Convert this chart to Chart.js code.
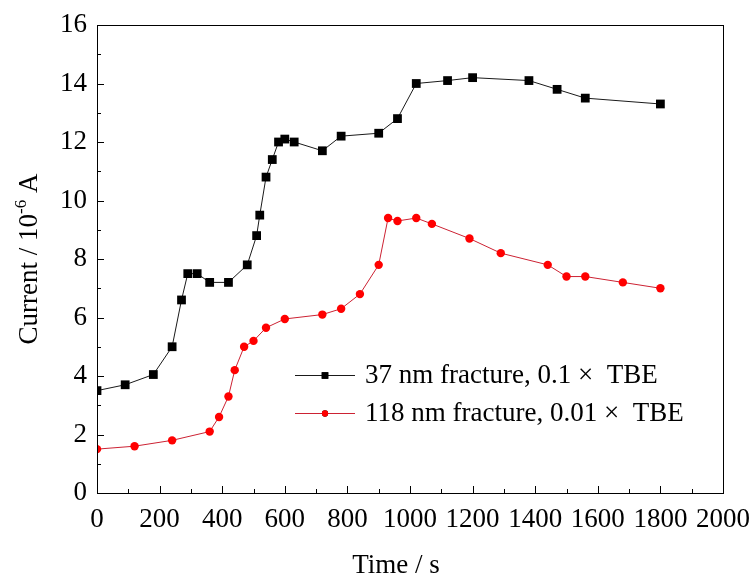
<!DOCTYPE html>
<html>
<head>
<meta charset="utf-8">
<script src="https://cdn.jsdelivr.net/npm/chart.js@4"></script>
<style>
  body { margin: 0; background: #fff; }
  canvas { display: block; }
</style>
</head>
<body>
<canvas id="myChart" width="752" height="579"></canvas>
<script>
const seriesNames = ['37 nm fracture, 0.1 \u00d7  TBE', '118 nm fracture, 0.01 \u00d7  TBE'];

const blackTime = [0, 90, 180, 240, 270, 290, 320, 360, 420, 480, 510, 520, 540, 560, 580, 600, 630, 720, 780, 900, 960, 1020, 1120, 1200, 1380, 1470, 1560, 1800];
const blackCurrent = [3.5, 3.7, 4.05, 5.0, 6.6, 7.5, 7.5, 7.2, 7.2, 7.8, 8.8, 9.5, 10.8, 11.4, 12.0, 12.1, 12.0, 11.7, 12.2, 12.3, 12.8, 14.0, 14.1, 14.2, 14.1, 13.8, 13.5, 13.3];

const redTime = [0, 120, 240, 360, 390, 420, 440, 470, 500, 540, 600, 720, 780, 840, 900, 930, 960, 1020, 1070, 1190, 1290, 1440, 1500, 1560, 1680, 1800];
const redCurrent = [1.5, 1.6, 1.8, 2.1, 2.6, 3.3, 4.2, 5.0, 5.2, 5.65, 5.95, 6.1, 6.3, 6.8, 7.8, 9.4, 9.3, 9.4, 9.2, 8.7, 8.2, 7.8, 7.4, 7.4, 7.2, 7.0];

const xTicks = [0, 200, 400, 600, 800, 1000, 1200, 1400, 1600, 1800, 2000];
const yTicks = [0, 2, 4, 6, 8, 10, 12, 14, 16];

const FONT = 'Liberation Serif';

function toPoints(xs, ys) {
    return xs.map(function(x, i) { return {x: x, y: ys[i]}; });
}

// inward ticks, box frame, axis titles and legend
const framePlugin = {
    id: 'frame',
    afterDraw: function(chart) {
        const ctx = chart.ctx;
        const area = chart.chartArea;
        const xs = chart.scales.x;
        const ys = chart.scales.y;
        ctx.save();
        ctx.strokeStyle = '#000';
        ctx.lineWidth = 1;
        ctx.strokeRect(Math.round(area.left) + 0.5, Math.round(area.top) + 0.5,
            Math.round(area.right - area.left), Math.round(area.bottom - area.top));

        ctx.beginPath();
        for (let v = 0; v <= 2000; v += 100) {
            const px = Math.round(xs.getPixelForValue(v)) + 0.5;
            const len = (v % 200 === 0) ? 7 : 4;
            ctx.moveTo(px, area.bottom);
            ctx.lineTo(px, area.bottom - len);
        }
        for (let v = 0; v <= 16; v += 1) {
            const py = Math.round(ys.getPixelForValue(v)) + 0.5;
            const len = (v % 2 === 0) ? 7 : 4;
            ctx.moveTo(area.left, py);
            ctx.lineTo(area.left + len, py);
        }
        ctx.stroke();

        // x title
        ctx.fillStyle = '#000';
        ctx.font = '27px "' + FONT + '"';
        ctx.textAlign = 'center';
        ctx.textBaseline = 'alphabetic';
        ctx.fillText('Time / s', 396, 573);

        // y title with superscript
        ctx.translate(37, (area.top + area.bottom) / 2);
        ctx.rotate(-Math.PI / 2);
        const partA = 'Current / 10';
        const partB = '-6';
        const partC = ' A';
        ctx.font = '27px "' + FONT + '"';
        const wA = ctx.measureText(partA).width;
        const wC = ctx.measureText(partC).width;
        ctx.font = '17px "' + FONT + '"';
        const wB = ctx.measureText(partB).width;
        let x0 = -(wA + wB + wC) / 2;
        ctx.textAlign = 'left';
        ctx.font = '27px "' + FONT + '"';
        ctx.fillText(partA, x0, 0);
        ctx.font = '17px "' + FONT + '"';
        ctx.fillText(partB, x0 + wA, -11);
        ctx.font = '27px "' + FONT + '"';
        ctx.fillText(partC, x0 + wA + wB, 0);
        ctx.restore();

        // legend
        ctx.save();
        const rows = [375, 413];
        chart.data.datasets.forEach(function(ds, i) {
            const y = rows[i];
            ctx.strokeStyle = ds.borderColor;
            ctx.lineWidth = 1;
            ctx.beginPath();
            ctx.moveTo(295, y + 0.5);
            ctx.lineTo(355, y + 0.5);
            ctx.stroke();
            Chart.helpers.drawPoint(ctx, {
                pointStyle: ds.pointStyle,
                radius: ds.pointRadius * 0.75,
                borderWidth: 0
            }, 325, y + 0.5);
            ctx.fillStyle = ds.pointBackgroundColor;
            ctx.fill();
            ctx.fillStyle = '#000';
            ctx.font = '27px "' + FONT + '"';
            ctx.textAlign = 'left';
            ctx.textBaseline = 'middle';
            ctx.fillText(seriesNames[i], 365, y + 1);
        });
        ctx.restore();
    }
};

const chartSettings = {
    type: 'line',
    data: {
        datasets: [
            {
                label: seriesNames[0],
                data: toPoints(blackTime, blackCurrent),
                borderColor: '#1a1a1a',
                borderWidth: 1,
                pointStyle: 'rect',
                pointRadius: 6.2,
                pointBackgroundColor: '#000',
                pointBorderColor: '#000',
                pointBorderWidth: 0,
                tension: 0
            },
            {
                label: seriesNames[1],
                data: toPoints(redTime, redCurrent),
                borderColor: '#cc2233',
                borderWidth: 1,
                pointStyle: 'circle',
                pointRadius: 4.2,
                pointBackgroundColor: '#ff0000',
                pointBorderColor: '#ff0000',
                pointBorderWidth: 0,
                tension: 0
            }
        ]
    },
    options: {
        responsive: false,
        animation: false,
        layout: {
            padding: {top: 25, right: 29, left: 0, bottom: 0}
        },
        plugins: {
            legend: {display: false},
            tooltip: {enabled: false}
        },
        scales: {
            x: {
                type: 'linear',
                min: 0,
                max: 2000,
                afterBuildTicks: function(scale) {
                    scale.ticks = xTicks.map(function(v) { return {value: v}; });
                },
                afterFit: function(scale) {
                    scale.height = 86;
                    scale.paddingRight = 0;
                    scale.paddingLeft = 0;
                },
                ticks: {
                    color: '#000',
                    padding: 11,
                    maxRotation: 0,
                    autoSkip: false,
                    font: {size: 27, family: FONT},
                    callback: function(v) { return String(v); }
                },
                grid: {display: false, drawTicks: false},
                border: {display: true, color: '#000', width: 1}
            },
            y: {
                min: 0,
                max: 16,
                afterBuildTicks: function(scale) {
                    scale.ticks = yTicks.map(function(v) { return {value: v}; });
                },
                afterFit: function(scale) {
                    scale.width = 97;
                    scale.paddingTop = 0;
                    scale.paddingBottom = 0;
                },
                ticks: {
                    color: '#000',
                    padding: 10,
                    autoSkip: false,
                    font: {size: 27, family: FONT},
                    callback: function(v) { return String(v); }
                },
                grid: {display: false, drawTicks: false},
                border: {display: true, color: '#000', width: 1}
            }
        }
    },
    plugins: [framePlugin]
};

window.onload = function() {
    const ctx = document.getElementById('myChart').getContext('2d');
    new Chart(ctx, chartSettings);
};
</script>
</body>
</html>
